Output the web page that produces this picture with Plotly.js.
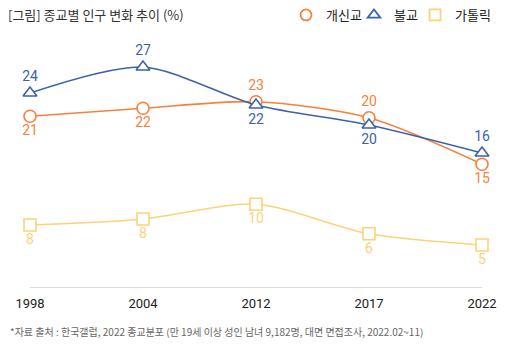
<!DOCTYPE html>
<html>
<head>
<meta charset="utf-8">
<script src="https://cdn.plot.ly/plotly-3.0.1.min.js"></script>
<style>html,body{margin:0;padding:0;background:#fff;}#chart{width:510px;height:352px;}</style>
</head>
<body>
<div id="chart"></div>
<script>
const years = ['1998', '2004', '2012', '2017', '2022'];
const seriesNames = ['개신교', '불교', '가톨릭'];
const protestant = [21.1, 22.1, 22.9, 20.9, 15.1];
const buddhist = [24.0, 27.25, 22.5, 20.0, 16.5];
const catholic = [7.5, 8.25, 10.1, 6.4, 5.0];
const protestantLabels = ['21', '22', '23', '20', '15'];
const buddhistLabels = ['24', '27', '22', '20', '16'];
const catholicLabels = ['8', '8', '10', '6', '5'];

const FONT = '"Noto Sans CJK KR", "Noto Sans", sans-serif';
const NUMFONT = 'Roboto, "Noto Sans CJK KR", sans-serif';
const colors = ['#f7813c', '#3e62a6', '#fcd27b'];
const symbols = ['circle', 'triangle-up', 'square'];
const legendIds = ['legend', 'legend2', 'legend3'];

function mk(i, y, text, pos) {
  return {
    type: 'scatter', mode: 'lines+markers+text', name: seriesNames[i],
    showlegend: false,
    x: years, y: y, text: text, textposition: pos,
    textfont: {family: NUMFONT, size: 14, color: colors[i]},
    line: {color: colors[i], width: 1.6, shape: 'spline', smoothing: 0.8},
    marker: {symbol: symbols[i], size: 12, color: '#ffffff', line: {color: colors[i], width: 1.6}},
    cliponaxis: false
  };
}
function legItem(i) {
  return {
    type: 'scatter', mode: 'markers', name: seriesNames[i], legend: legendIds[i],
    x: [null], y: [null], showlegend: true,
    marker: {symbol: symbols[i], size: 11, color: '#ffffff', line: {color: colors[i], width: 1.8}}
  };
}

const data = [
  mk(0, protestant, protestantLabels, ['bottom center', 'bottom center', 'top center', 'top center', 'bottom center']),
  mk(1, buddhist, buddhistLabels, ['top center', 'top center', 'bottom center', 'bottom center', 'top center']),
  mk(2, catholic, catholicLabels, 'bottom center'),
  legItem(0), legItem(1), legItem(2)
];

function leg(xpx) {
  return {orientation: 'h', x: xpx / 510, xanchor: 'left', xref: 'container',
          y: 1 - 15 / 352, yanchor: 'middle', yref: 'container',
          font: {family: FONT, size: 13, color: '#222'}, itemwidth: 30,
          bgcolor: 'rgba(0,0,0,0)'};
}

const layout = {
  width: 510, height: 352,
  margin: {l: 30, r: 28, t: 50, b: 65},
  paper_bgcolor: '#fff', plot_bgcolor: '#fff',
  font: {family: FONT, color: '#222'},
  title: {text: '[그림] 종교별 인구 변화 추이 (%)', font: {family: FONT, size: 13, color: '#333'},
          x: 8/510, xanchor: 'left', xref: 'container', y: 1 - 15/352, yanchor: 'middle', yref: 'container'},
  showlegend: true,
  legend: leg(286),
  legend2: leg(354),
  legend3: leg(415),
  xaxis: {type: 'category', range: [0, 4], showgrid: false, zeroline: false,
          showline: true, linecolor: '#dddddd', linewidth: 1, ticks: '',
          tickfont: {family: NUMFONT, size: 13, color: '#222'}, ticklabelstandoff: 4, fixedrange: true},
  yaxis: {range: [-0.25, 29.375], showgrid: false, zeroline: false, showline: false,
          showticklabels: false, ticks: '', fixedrange: true},
  annotations: [{
    text: '*자료 출처 : 한국갤럽, 2022 종교분포 (만 19세 이상 성인 남녀 9,182명, 대면 면접조사, 2022.02~11)',
    xref: 'paper', yref: 'paper', x: (8 - 30) / 452, y: (287 - 331) / 237, xanchor: 'left', yanchor: 'middle',
    showarrow: false, font: {family: FONT, size: 10, color: '#666'}
  }]
};

Plotly.newPlot('chart', data, layout, {displayModeBar: false, staticPlot: true});
</script>
</body>
</html>
